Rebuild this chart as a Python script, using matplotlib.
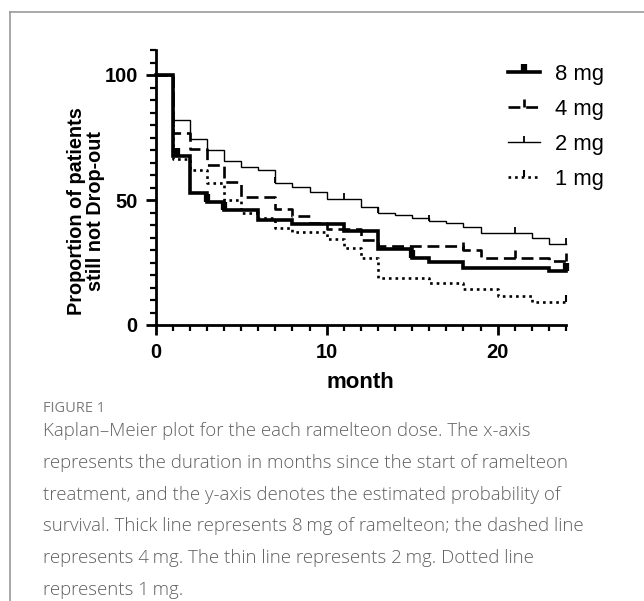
import numpy as np
import matplotlib
matplotlib.use("Agg")
import matplotlib.pyplot as plt
from matplotlib.path import Path
from matplotlib.lines import Line2D
from matplotlib.ticker import MultipleLocator

# Kaplan-Meier steps (month, % still not dropped out)
dose_labels = ["8 mg", "4 mg", "2 mg", "1 mg"]

t_8mg = [0, 1, 2, 3, 4, 6, 8, 11, 13, 15, 16, 18, 23, 24]
s_8mg = [100, 67.5, 52.9, 49.3, 46, 42, 40.5, 37.5, 30.3, 26.7, 25.3, 23, 21.7, 21.7]
c_8mg = [1.1, 1.25, 3, 4, 15, 24]

t_4mg = [0, 1, 2, 3, 4, 5, 7, 8, 9, 10, 12, 13, 18, 19, 23, 24]
s_4mg = [100, 76.9, 70.3, 64, 57.3, 51.3, 46.3, 43.5, 41, 38.5, 34, 31.5, 30, 27, 25.6, 25.6]
c_4mg = [18, 21, 24]

t_2mg = [0, 1, 2, 3, 4, 5, 6, 7, 8, 9, 10, 12, 13, 14, 15, 16, 17, 18, 19, 22, 23, 24]
s_2mg = [100, 82, 74.3, 70, 65.7, 63.3, 62, 57, 55.3, 53.3, 50.4, 47.3, 45, 44, 42.7,
         41.6, 40.7, 39.3, 37, 34.7, 32.3, 32.3]
c_2mg = [7, 11, 13, 16, 21, 24]

t_1mg = [0, 1, 2, 3, 4, 5, 6, 7, 8, 10, 11, 12, 13, 16, 18, 20, 22, 24]
s_1mg = [100, 66.3, 62, 57, 50, 44.7, 42.7, 38.7, 37.3, 34.5, 30.7, 26.7, 18.7, 16.7,
         14.3, 11.7, 9.3, 9.3]
c_1mg = [24]

x_ticks = [0, 10, 20]
y_ticks = [0, 50, 100]

caption_lines = [
    "Kaplan\u2013Meier plot for the each ramelteon dose. The x-axis",
    "represents the duration in months since the start of ramelteon",
    "treatment, and the y-axis denotes the estimated probability of",
    "survival. Thick line represents 8\u2009mg of ramelteon; the dashed line",
    "represents 4\u2009mg. The thin line represents 2\u2009mg. Dotted line",
    "represents 1\u2009mg.",
]

W, H = 644, 601
# upward censor tick (like GraphPad)
tick = Path([(0, 0), (0, 1)])

styles = [
    dict(lw=2.6, ls="-", ms=11, mew=4.5),
    dict(lw=1.9, ls=(0, (4.5, 2.2)), ms=11, mew=1.9),
    dict(lw=1.0, ls="-", ms=9, mew=1.3),
    dict(lw=1.9, ls=(0, (1, 1.5)), ms=10, mew=1.5),
]

series = [(t_8mg, s_8mg, c_8mg), (t_4mg, s_4mg, c_4mg),
          (t_2mg, s_2mg, c_2mg), (t_1mg, s_1mg, c_1mg)]


def fx(px):
    return px / W


def fy(py):
    return 1 - py / H


fig = plt.figure(figsize=(W / 100, H / 100), dpi=100)
ax = fig.add_axes([fx(155.7), fy(325), fx(566) - fx(155.7), fy(50) - fy(325)])

handles = []
for (t, s, c), st in zip(series, styles):
    ax.step(t, s, where="post", color="black", lw=st["lw"], ls=st["ls"],
            solid_joinstyle="miter", clip_on=False)
    idx = np.searchsorted(t, c, side="right") - 1
    cy = np.array(s)[idx]
    ax.plot(c, cy, ls="none", marker=tick, ms=st["ms"], mew=st["mew"],
            color="black", clip_on=False)
    handles.append(Line2D([], [], color="black", lw=st["lw"], ls=st["ls"],
                          marker=tick, ms=st["ms"], mew=st["mew"]))

ax.set_xlim(0, 24)
ax.set_ylim(0, 110)
ax.set_xticks(x_ticks)
ax.set_yticks(y_ticks)
ax.xaxis.set_minor_locator(MultipleLocator(1))
ax.yaxis.set_minor_locator(MultipleLocator(5))
for sp in ["top", "right"]:
    ax.spines[sp].set_visible(False)
for sp in ["left", "bottom"]:
    ax.spines[sp].set_linewidth(2.0)
ax.tick_params(which="major", length=7, width=2.0, direction="out", pad=6)
ax.tick_params(which="minor", length=4.5, width=1.6, direction="out")
for lab in ax.get_xticklabels() + ax.get_yticklabels():
    lab.set_fontfamily("Liberation Sans")
    lab.set_fontweight("bold")
    lab.set_fontsize(14.5)

ax.set_xlabel("month", fontfamily="Liberation Sans", fontweight="bold",
              fontsize=16, labelpad=7)
ax.set_ylabel("Proportion of patients\nstill not Drop-out", fontfamily="Liberation Sans",
              fontweight="bold", fontsize=14.3, linespacing=1.0)
ax.yaxis.set_label_coords(-0.124, 0.4145)

leg = fig.legend(handles, dose_labels, loc="upper left",
                 bbox_to_anchor=(fx(488), fy(44)), frameon=False,
                 handlelength=1.45, handletextpad=0.7, labelspacing=0.64,
                 prop={"family": "Liberation Sans", "size": 15.8})

# frame lines of the figure panel
fig.add_artist(Line2D([fx(9.5), 1], [fy(11.5), fy(11.5)], color="#9a9a9a", lw=1.2))
fig.add_artist(Line2D([fx(9.5), fx(9.5)], [fy(11.5), 0], color="#9a9a9a", lw=1.2))

fig.text(fx(43), fy(408), "FIGURE 1", family=["Open Sans", "DejaVu Sans"],
         fontsize=10.5, color="#7d7d7d", va="center", ha="left")
for i, line in enumerate(caption_lines):
    fig.text(fx(43), fy(431 + i * 31.8), line, family=["Open Sans", "DejaVu Sans"],
             fontweight="light", fontsize=13.4, color="#606060", va="center", ha="left")

fig.savefig("out.png", dpi=100)
